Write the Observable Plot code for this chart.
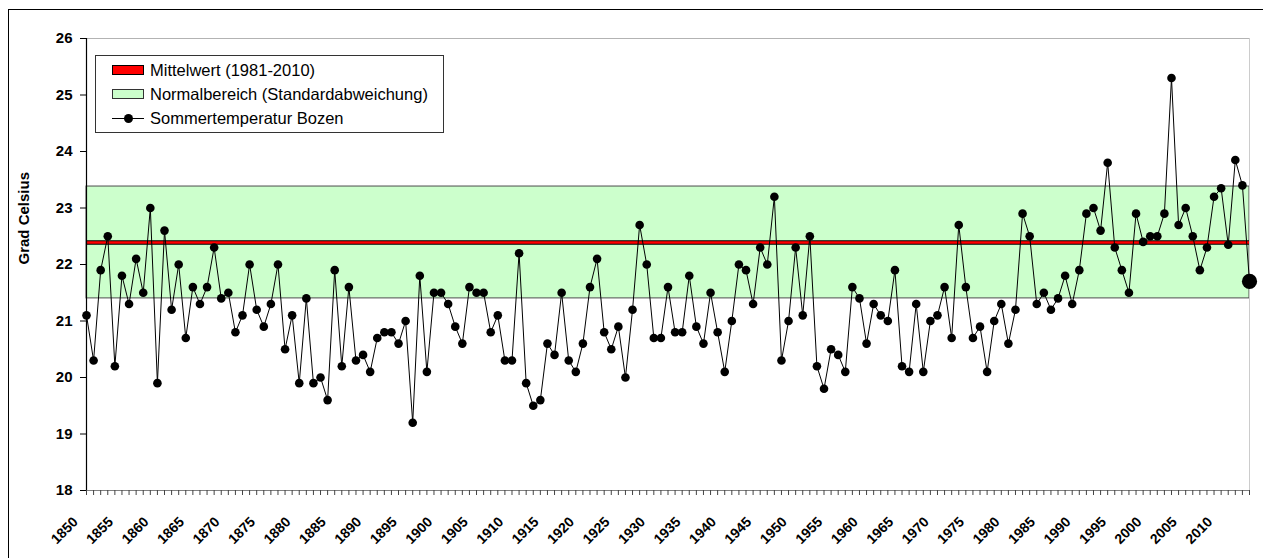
<!DOCTYPE html>
<html>
<head>
<meta charset="utf-8">
<script src="https://cdn.jsdelivr.net/npm/d3@7"></script>
<script src="https://cdn.jsdelivr.net/npm/@observablehq/plot@0.6"></script>
<style>
  body { margin: 0; background: #fff; font-family: "Liberation Sans", Arial, sans-serif; }
  #wrap { position: relative; width: 1263px; height: 558px; overflow: hidden; background: #fff; }
  #frame { position: absolute; left: 8px; top: 9px; width: 1300px; height: 600px;
           border-left: 1px solid #000; border-top: 1px solid #000; pointer-events: none; }
  #legend { position: absolute; left: 95px; top: 55px; width: 347px; height: 76px;
            border: 1px solid #333; background: #fff; font-size: 16.5px; color: #000; }
  .row { position: absolute; left: 0; height: 20px; }
  .row span.t { position: absolute; left: 54px; top: 0; white-space: nowrap; line-height: 20px; }
  .sw { position: absolute; left: 16px; width: 30px; height: 8px; }
  .ln { position: absolute; left: 16px; top: 9.5px; width: 32px; height: 1px; background: #000; }
  .dt { position: absolute; left: 27.5px; top: 5.5px; width: 9px; height: 9px; border-radius: 50%; background: #000; }
</style>
</head>
<body>
<div id="wrap">
  <div id="chart"></div>
  <div id="frame"></div>
  <div id="legend">
    <div class="row" style="top:4px"><div class="sw" style="top:5px;background:#ff0000;border:1px solid #000"></div><span class="t" id="l1"></span></div>
    <div class="row" style="top:28px"><div class="sw" style="top:5px;background:#ccffcc;border:1px solid #333"></div><span class="t" id="l2"></span></div>
    <div class="row" style="top:52px"><div class="ln"></div><div class="dt"></div><span class="t" id="l3"></span></div>
  </div>
</div>
<script>
// ---- data ----
const startYear = 1850;
const temps = [
  21.1, 20.3, 21.9, 22.5, 20.2, 21.8, 21.3, 22.1, 21.5, 23.0,
  19.9, 22.6, 21.2, 22.0, 20.7, 21.6, 21.3, 21.6, 22.3, 21.4,
  21.5, 20.8, 21.1, 22.0, 21.2, 20.9, 21.3, 22.0, 20.5, 21.1,
  19.9, 21.4, 19.9, 20.0, 19.6, 21.9, 20.2, 21.6, 20.3, 20.4,
  20.1, 20.7, 20.8, 20.8, 20.6, 21.0, 19.2, 21.8, 20.1, 21.5,
  21.5, 21.3, 20.9, 20.6, 21.6, 21.5, 21.5, 20.8, 21.1, 20.3,
  20.3, 22.2, 19.9, 19.5, 19.6, 20.6, 20.4, 21.5, 20.3, 20.1,
  20.6, 21.6, 22.1, 20.8, 20.5, 20.9, 20.0, 21.2, 22.7, 22.0,
  20.7, 20.7, 21.6, 20.8, 20.8, 21.8, 20.9, 20.6, 21.5, 20.8,
  20.1, 21.0, 22.0, 21.9, 21.3, 22.3, 22.0, 23.2, 20.3, 21.0,
  22.3, 21.1, 22.5, 20.2, 19.8, 20.5, 20.4, 20.1, 21.6, 21.4,
  20.6, 21.3, 21.1, 21.0, 21.9, 20.2, 20.1, 21.3, 20.1, 21.0,
  21.1, 21.6, 20.7, 22.7, 21.6, 20.7, 20.9, 20.1, 21.0, 21.3,
  20.6, 21.2, 22.9, 22.5, 21.3, 21.5, 21.2, 21.4, 21.8, 21.3,
  21.9, 22.9, 23.0, 22.6, 23.8, 22.3, 21.9, 21.5, 22.9, 22.4,
  22.5, 22.5, 22.9, 25.3, 22.7, 23.0, 22.5, 21.9, 22.3, 23.2,
  23.35, 22.35, 23.85, 23.4, 21.7
];
const meanValue = 22.39;        // Mittelwert (1981-2010)
const bandLow = 21.40;          // Normalbereich unten
const bandHigh = 23.38;         // Normalbereich oben
const yTicks = [18, 19, 20, 21, 22, 23, 24, 25, 26];
const labelYears = [1850,1855,1860,1865,1870,1875,1880,1885,1890,1895,1900,1905,1910,1915,1920,1925,1930,1935,1940,1945,1950,1955,1960,1965,1970,1975,1980,1985,1990,1995,2000,2005,2010];
const legendLabels = ["Mittelwert (1981-2010)", "Normalbereich (Standardabweichung)", "Sommertemperatur Bozen"];
const yTitle = "Grad Celsius";

// ---- build ----
const data = temps.map((t, i) => ({year: startYear + i, temp: t}));
const years = data.map(d => d.year);
const firstYear = years[0], lastYear = years[years.length - 1];
const last = data[data.length - 1];

document.getElementById("l1").textContent = legendLabels[0];
document.getElementById("l2").textContent = legendLabels[1];
document.getElementById("l3").textContent = legendLabels[2];

const chart = Plot.plot({
  width: 1263,
  height: 558,
  marginLeft: 86,
  marginRight: 14,
  marginTop: 38,
  marginBottom: 68,
  style: {fontFamily: "'Liberation Sans', Arial, sans-serif", fontSize: "15px", background: "transparent", overflow: "visible"},
  x: {domain: [firstYear, lastYear], axis: null},
  y: {domain: [18, 26], axis: null},
  marks: [
    Plot.rect([{x1: firstYear, x2: lastYear, y1: bandLow, y2: bandHigh}],
      {x1: "x1", x2: "x2", y1: "y1", y2: "y2", fill: "#ccffcc", stroke: "#4d4d4d", strokeWidth: 1}),
    Plot.ruleY([26], {stroke: "#b3b3b3", strokeWidth: 1.2}),
    Plot.ruleX([lastYear], {stroke: "#cccccc", strokeWidth: 1}),
    Plot.ruleY([meanValue], {stroke: "#000", strokeWidth: 4.5}),
    Plot.ruleY([meanValue], {stroke: "#ff0000", strokeWidth: 2.4}),
    Plot.ruleY([18], {stroke: "#808080", strokeWidth: 1.2}),
    Plot.ruleX([firstYear], {stroke: "#000", strokeWidth: 1.2}),
    Plot.axisY({ticks: yTicks, tickSize: 6, tickPadding: 8, tickFormat: d => String(d),
      fontWeight: "bold", fontSize: 15, label: null, stroke: "#000"}),
    Plot.axisX({ticks: years, tickSize: 5, tickFormat: () => "", label: null, stroke: "#444"}),
    Plot.text(labelYears, {x: d => d, frameAnchor: "bottom", text: d => String(d), rotate: -45,
      textAnchor: "end", lineAnchor: "middle", dx: -11, dy: 29, fontWeight: "bold", fontSize: 14, fill: "#000"}),
    Plot.text([yTitle], {frameAnchor: "left", rotate: -90, dx: -62, fontWeight: "bold", fontSize: 15, fill: "#000"}),
    Plot.line(data, {x: "year", y: "temp", stroke: "#000", strokeWidth: 1}),
    Plot.dot(data.slice(0, -1), {x: "year", y: "temp", r: 4.3, fill: "#000", stroke: "none"}),
    Plot.dot([last], {x: "year", y: "temp", r: 7.6, fill: "#000", stroke: "none"})
  ]
});
document.getElementById("chart").appendChild(chart);
</script>
</body>
</html>
